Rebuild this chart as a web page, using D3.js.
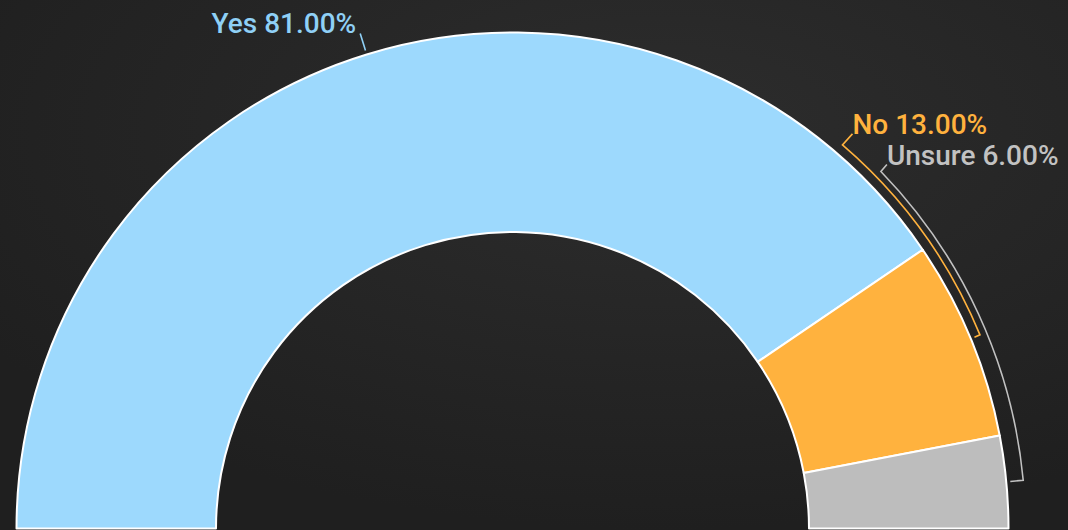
<!DOCTYPE html>
<html>
<head>
<meta charset="utf-8">
<script src="https://cdn.jsdelivr.net/npm/d3@7"></script>
<style>
  html, body { margin: 0; padding: 0; background: #242424; }
  svg { display: block; }
</style>
</head>
<body>
<div id="chart"></div>
<script>
// Data
const categories = ["Yes", "No", "Unsure"];
const values = [81, 13, 6];
const sliceColors = ["#9dd9fd", "#ffb23e", "#bdbdbd"];
const labelColors = ["#8fd0f6", "#ffb23e", "#c2c2c2"];

const width = 1068, height = 530;
const cx = 512.5, cy = 528.5;
const outerR = 496, innerR = 296.5;

const svg = d3.select("#chart").append("svg")
  .attr("width", width)
  .attr("height", height);

// background
const defs = svg.append("defs");
const grad = defs.append("radialGradient")
  .attr("id", "bg")
  .attr("cx", "62%").attr("cy", "25%").attr("r", "75%");
grad.append("stop").attr("offset", "0%").attr("stop-color", "#2d2d2d");
grad.append("stop").attr("offset", "100%").attr("stop-color", "#1f1f1f");
svg.append("rect").attr("width", width).attr("height", height).attr("fill", "url(#bg)");

const data = categories.map((c, i) => ({ name: c, value: values[i], i: i }));

const pie = d3.pie()
  .sort(null)
  .value(d => d.value)
  .startAngle(-Math.PI / 2)
  .endAngle(Math.PI / 2);

const arcs = pie(data);

const arc = d3.arc()
  .innerRadius(innerR)
  .outerRadius(outerR);

const g = svg.append("g").attr("transform", `translate(${cx},${cy})`);

g.selectAll("path.slice")
  .data(arcs)
  .enter().append("path")
  .attr("class", "slice")
  .attr("d", arc)
  .attr("fill", d => sliceColors[d.data.i])
  .attr("stroke", "#ffffff")
  .attr("stroke-width", 2)
  .attr("stroke-linejoin", "round");

// point on a circle around the centre, angle from 12 o'clock clockwise
function pt(a, r) {
  return [r * Math.sin(a), -r * Math.cos(a)];
}

const deg = Math.PI / 180;
// leader layout: radius of the bracket arc and where it bends to the label
const leader = [
  { r: outerR + 22, bend: null, off: [0, 0] },
  { r: outerR + 10, bend: 40.7 * deg, off: [10, -11] },
  { r: outerR + 17, bend: 45.9 * deg, off: [6, -7] }
];

const fmt = d => `${d.data.name} ${d.data.value.toFixed(2)}%`;

arcs.forEach(d => {
  const i = d.data.i;
  const mid = (d.startAngle + d.endAngle) / 2;
  const L = leader[i];
  const p0 = pt(mid, outerR + 4);
  const p1 = pt(mid, L.r);
  let path, tx, ty, anchor;
  if (L.bend === null) {
    path = `M${p0}L${p1}`;
    tx = p1[0] - 4; ty = p1[1]; anchor = "end";
  } else {
    const p2 = pt(L.bend, L.r);
    const p3 = [p2[0] + L.off[0], p2[1] + L.off[1]];
    path = `M${p0}L${p1}A${L.r},${L.r} 0 0 0 ${p2}L${p3}`;
    tx = p3[0]; ty = p3[1]; anchor = "start";
  }
  g.append("path")
    .attr("d", path)
    .attr("fill", "none")
    .attr("stroke", labelColors[i])
    .attr("stroke-width", 1.6);
  g.append("text")
    .attr("x", tx)
    .attr("y", ty)
    .attr("text-anchor", anchor)
    .attr("fill", labelColors[i])
    .style("font-family", "Roboto, sans-serif")
    .style("font-size", "28px")
    .style("font-weight", 500)
    .text(fmt(d));
});
</script>
</body>
</html>
